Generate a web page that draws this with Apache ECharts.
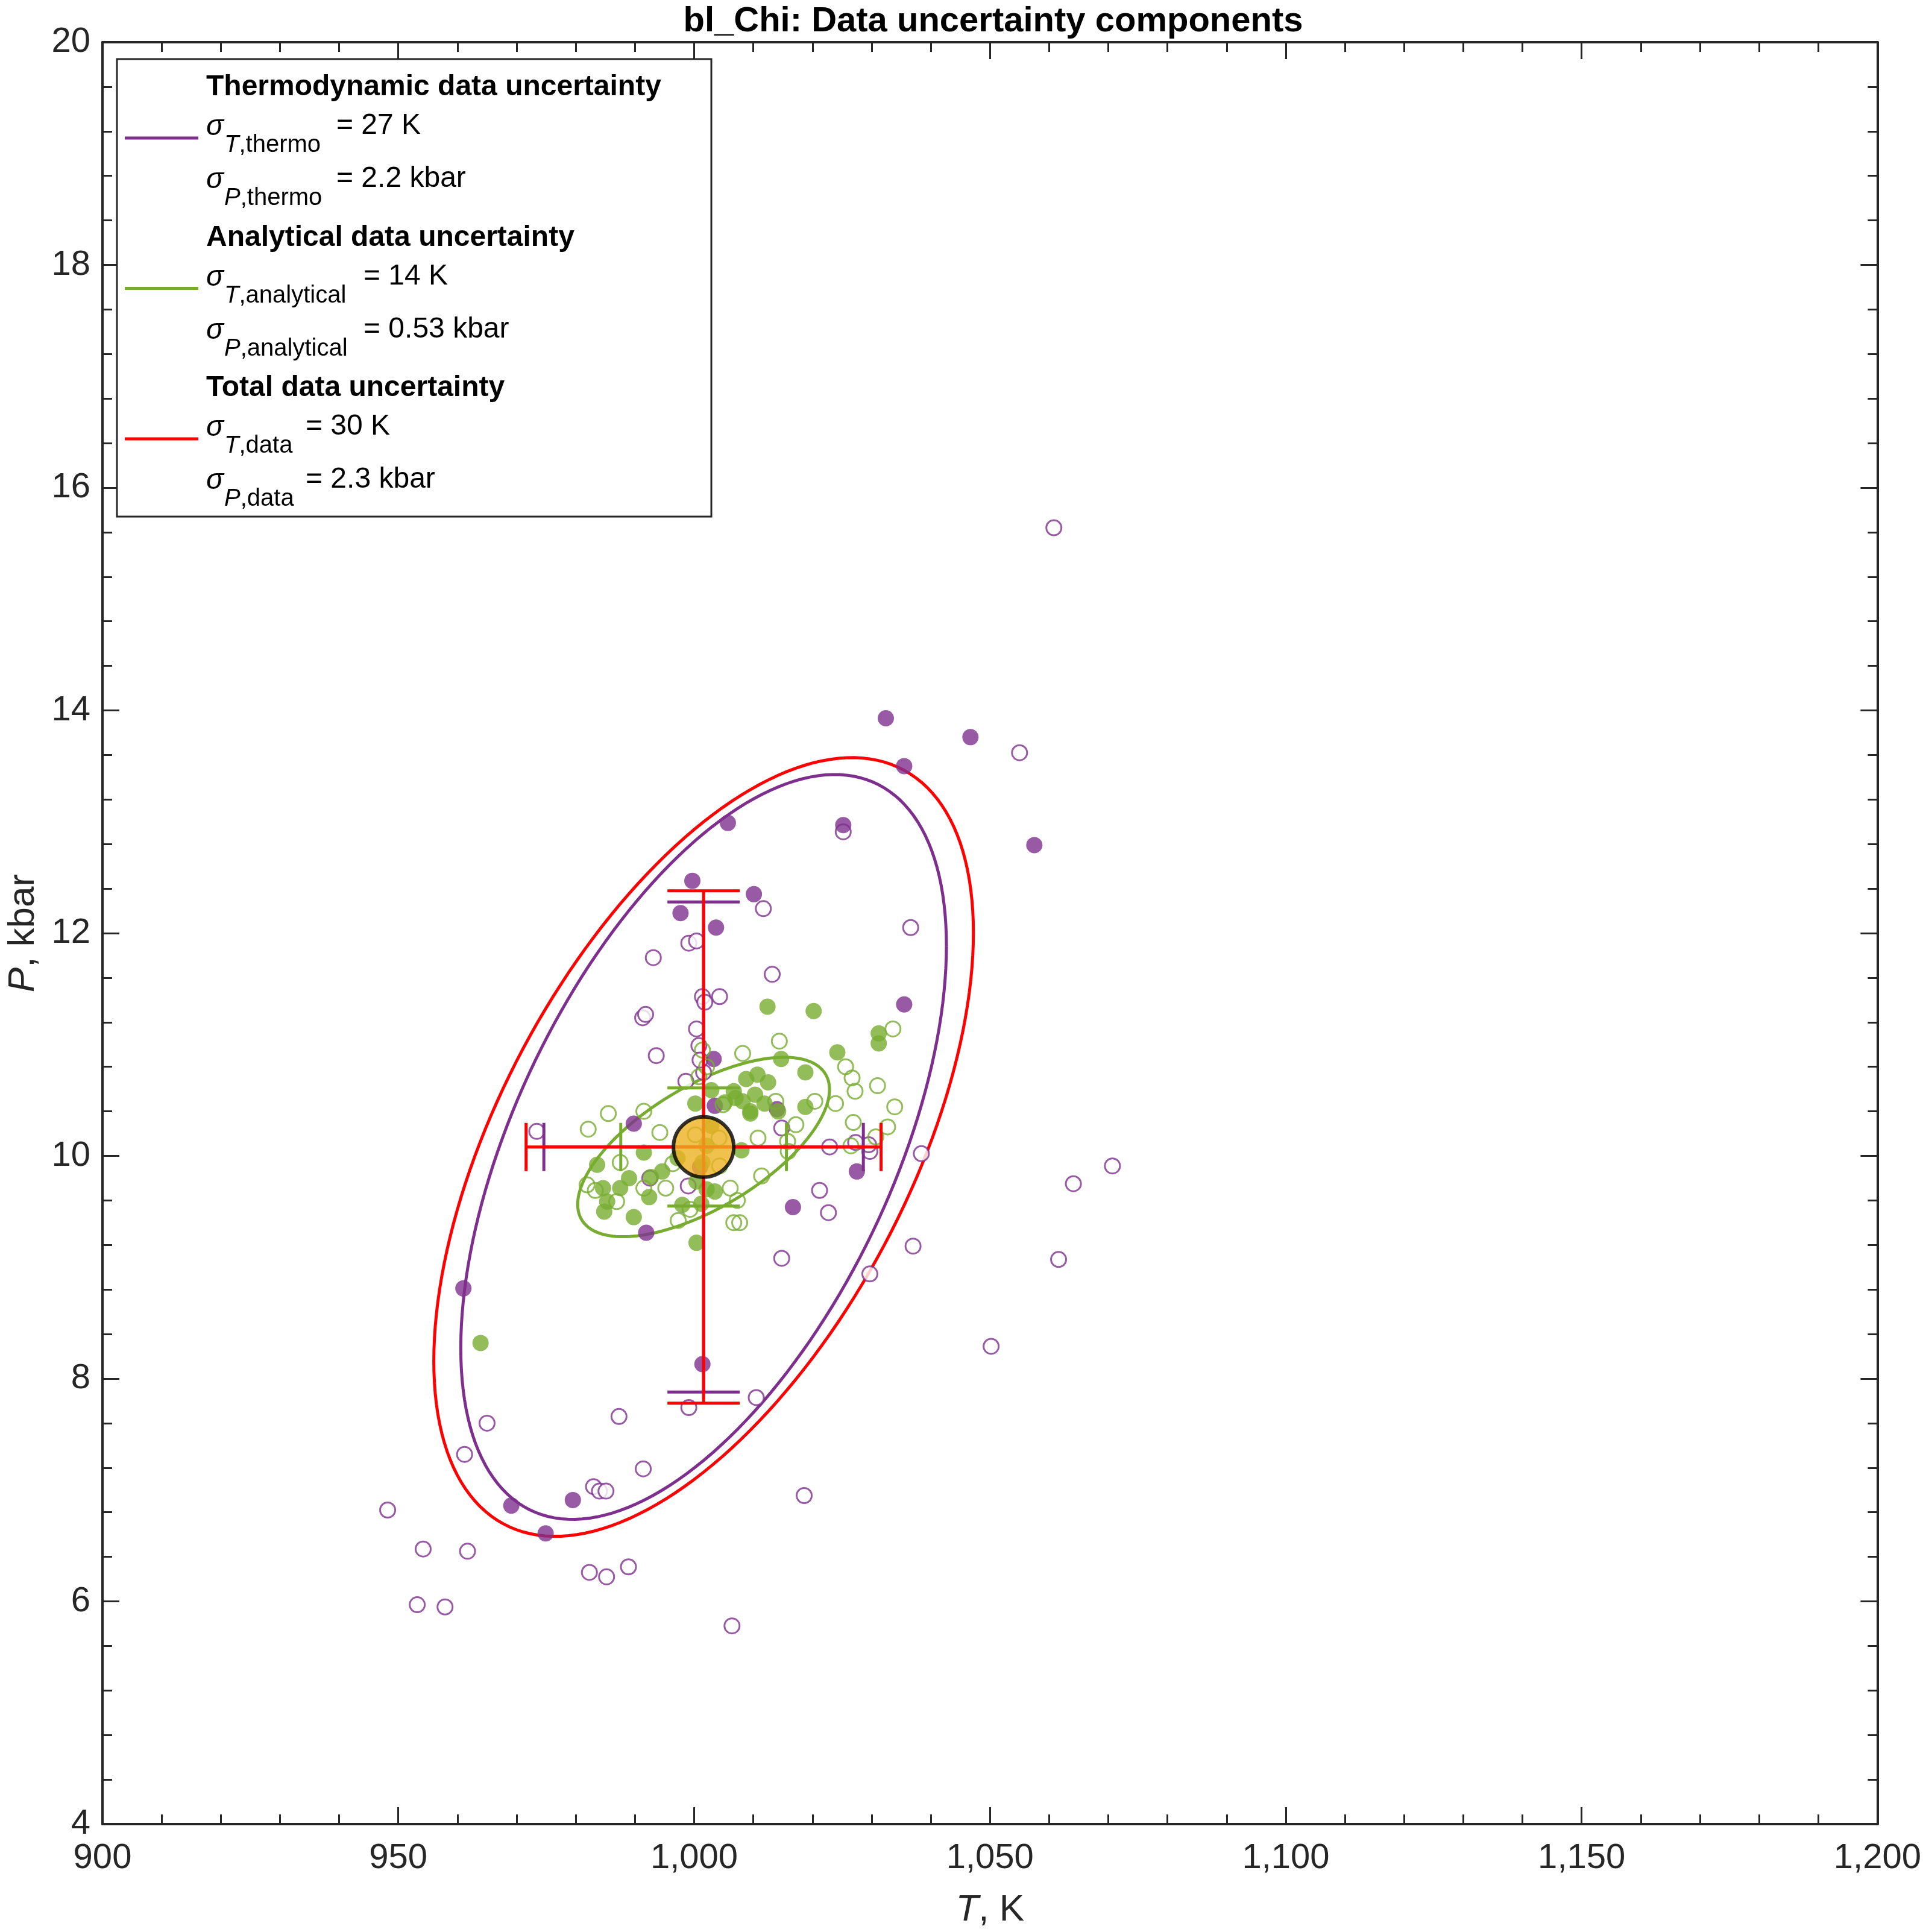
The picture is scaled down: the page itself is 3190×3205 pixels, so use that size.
<!DOCTYPE html>
<html><head><meta charset="utf-8">
<script src="https://cdn.jsdelivr.net/npm/echarts@6/dist/echarts.min.js"></script>
<style>html,body{margin:0;padding:0;background:#fff}#c{width:3190px;height:3205px}</style>
</head><body><div id="c"></div>
<script>
// ---- data ----
const purpleFilled = [[1032.4,13.93],[1046.7,13.76],[1035.5,13.50],[1057.5,12.79],[1025.2,12.97],[1005.7,12.99],[999.7,12.47],[1010.1,12.35],[997.7,12.18],[1003.7,12.05],[1035.5,11.36],[1003.3,10.87],[989.8,10.29],[1027.5,9.86],[1016.7,9.54],[991.9,9.31],[961.0,8.81],[1001.4,8.13],[969.1,6.86],[979.5,6.91],[974.9,6.61],[1003.5,10.45],[1014.0,10.42],[1001.0,9.90]];
const purpleOpen = [[1060.8,15.64],[1055.0,13.62],[1025.2,12.91],[1011.7,12.22],[1036.6,12.05],[999.1,11.91],[1000.4,11.93],[993.1,11.78],[1013.2,11.63],[1001.4,11.43],[1004.3,11.43],[1001.8,11.38],[991.3,11.24],[991.8,11.27],[993.6,10.90],[1000.4,11.14],[1000.8,10.99],[1001.6,10.75],[973.4,10.22],[1014.8,10.25],[1022.9,10.08],[1029.7,10.04],[1029.5,10.10],[1027.3,10.12],[1038.4,10.02],[1070.7,9.91],[1064.1,9.75],[1021.2,9.69],[1022.7,9.49],[1014.8,9.08],[1037.0,9.19],[1061.6,9.07],[1029.7,8.94],[1050.2,8.29],[999.1,7.74],[1010.5,7.83],[987.3,7.66],[965.0,7.60],[961.2,7.32],[991.4,7.19],[983.0,7.03],[984.0,6.99],[985.1,6.99],[1018.6,6.95],[948.2,6.82],[954.2,6.47],[961.7,6.45],[982.3,6.26],[985.2,6.22],[988.9,6.31],[953.2,5.97],[957.9,5.95],[1006.4,5.78],[999.0,9.73],[992.5,9.80],[998.6,10.67],[1001.0,10.86]];
const greenFilled = [[963.9,8.32],[1012.4,11.34],[1020.2,11.30],[1031.2,11.10],[1031.2,11.01],[1024.2,10.93],[1014.7,10.87],[1018.8,10.75],[1010.7,10.73],[1008.8,10.69],[1012.5,10.66],[1006.7,10.58],[1010.3,10.55],[1002.9,10.59],[1000.2,10.47],[1011.9,10.47],[1014.2,10.40],[1009.5,10.38],[1018.8,10.44],[1002.9,10.27],[1009.5,10.40],[1008.2,10.49],[1002.1,10.09],[1008.0,10.05],[983.6,9.92],[991.5,10.03],[997.2,9.98],[1001.4,9.94],[994.6,9.86],[989.0,9.80],[992.7,9.81],[984.6,9.71],[987.5,9.71],[1000.4,9.77],[1002.1,9.70],[1003.5,9.68],[985.3,9.59],[992.4,9.63],[998.0,9.56],[1001.2,9.57],[984.8,9.50],[989.8,9.45],[1000.4,9.22],[1005.2,10.48],[1007.0,10.52]];
const greenOpen = [[1033.6,11.14],[1014.4,11.03],[1008.2,10.92],[1001.4,10.95],[1002.1,10.80],[1000.8,10.71],[1025.6,10.80],[1026.7,10.70],[1031.0,10.63],[1027.2,10.58],[1020.4,10.49],[1013.8,10.49],[1004.9,10.46],[1033.9,10.44],[1023.9,10.47],[1017.2,10.28],[1026.9,10.30],[1032.7,10.26],[982.1,10.24],[985.5,10.38],[991.5,10.40],[994.2,10.21],[1000.2,10.19],[1004.2,10.16],[1010.8,10.16],[1015.8,10.13],[1030.7,10.17],[1026.5,10.09],[987.5,9.94],[996.4,9.93],[1004.3,9.91],[1015.9,10.04],[981.9,9.74],[983.3,9.69],[986.9,9.59],[995.2,9.71],[1006.1,9.71],[1007.3,9.60],[997.3,9.42],[1006.7,9.40],[1007.7,9.40],[1011.4,9.82],[999.3,9.52],[991.5,9.71]];
const center = [1001.6, 10.08];
// components: name, sigmaT, sigmaP, correlation, colour
const compNames = ['thermo','analytical','data'];
const sigmaT = [27, 14, 30];
const sigmaP = [2.2, 0.53, 2.3];
const rhoTP = [0.54, 0.64, 0.55];
const ellipseScale = 1.52;
const compColors = ['#7E2F8E','#77AC30','#FF0000'];
const xTicks = [900,950,1000,1050,1100,1150,1200];
const yTicks = [4,6,8,10,12,14,16,18,20];

// ---- chart ----
const chart = echarts.init(document.getElementById('c'));
const axisCol = '#262626';
const G = {left:160, top:70, width:2965, height:2963};

function ellipseSeries(i){
  return {type:'custom', z:3, silent:true, data:[[center[0],center[1]]],
    renderItem:function(params, api){
      const pts=[];
      const r=Math.sqrt(1-rhoTP[i]*rhoTP[i]);
      for(let k=0;k<=180;k++){
        const t=k/180*2*Math.PI;
        const T=center[0]+ellipseScale*sigmaT[i]*Math.cos(t);
        const P=center[1]+ellipseScale*sigmaP[i]*(rhoTP[i]*Math.cos(t)+r*Math.sin(t));
        pts.push(api.coord([T,P]));
      }
      return {type:'polyline', shape:{points:pts}, style:{stroke:compColors[i], lineWidth:5, fill:null}};
    }};
}
function barSeries(i){
  return {type:'custom', z:6, silent:true, data:[[center[0],center[1]]],
    renderItem:function(params, api){
      const c=center, sT=sigmaT[i], sP=sigmaP[i];
      const L=api.coord([c[0]-sT,c[1]]), R=api.coord([c[0]+sT,c[1]]);
      const U=api.coord([c[0],c[1]+sP]), D=api.coord([c[0],c[1]-sP]);
      const cap=40, st={stroke:compColors[i], lineWidth:5};
      const ln=(a,b)=>({type:'line', shape:{x1:a[0],y1:a[1],x2:b[0],y2:b[1]}, style:st});
      return {type:'group', children:[
        ln(L,R), ln(U,D),
        ln([L[0],L[1]-cap],[L[0],L[1]+cap]), ln([R[0],R[1]-cap],[R[0],R[1]+cap]),
        ln([U[0]-cap*1.5,U[1]],[U[0]+cap*1.5,U[1]]), ln([D[0]-cap*1.5,D[1]],[D[0]+cap*1.5,D[1]])
      ]};
    }};
}
const baseX = {type:'value', min:900, max:1200, interval:50, gridIndex:0};
const baseY = {type:'value', min:4, max:20, interval:2, gridIndex:0};
const tickStyle = {axisLine:{show:true,lineStyle:{color:axisCol,width:4}}, axisTick:{show:true,inside:true,length:28,lineStyle:{color:axisCol,width:3}}, minorTick:{show:true,splitNumber:5,length:16,lineStyle:{color:axisCol,width:3}}, splitLine:{show:false}};
const minorInside = {};
const option = {
  backgroundColor:'#fff',
  animation:false,
  title:{text:'bl_Chi: Data uncertainty components', left:G.left+G.width/2, textAlign:'center', top:2,
    textStyle:{fontFamily:'Liberation Sans', fontWeight:'bold', fontSize:58, color:'#000'}},
  grid:G,
  xAxis:[
    Object.assign({}, baseX, tickStyle, {position:'bottom', name:'{i|T}, K', nameLocation:'middle', nameGap:112,
      nameTextStyle:{fontFamily:'Liberation Sans', fontSize:62, color:axisCol, rich:{i:{fontStyle:'italic', fontFamily:'Liberation Sans', fontSize:62, color:axisCol}}},
      axisLabel:{fontFamily:'Liberation Sans', fontSize:58, color:axisCol, margin:28}}),
    Object.assign({}, baseX, tickStyle, {position:'top', axisLabel:{show:false}})
  ],
  yAxis:[
    Object.assign({}, baseY, tickStyle, {position:'left', name:'{i|P}, kbar', nameLocation:'middle', nameGap:100,
      nameTextStyle:{fontFamily:'Liberation Sans', fontSize:62, color:axisCol, rich:{i:{fontStyle:'italic', fontFamily:'Liberation Sans', fontSize:62, color:axisCol}}},
      axisLabel:{fontFamily:'Liberation Sans', fontSize:58, color:axisCol, margin:20}}),
    Object.assign({}, baseY, tickStyle, {position:'right', axisLabel:{show:false}})
  ],
  series:[
    ellipseSeries(0), ellipseSeries(2), ellipseSeries(1),
    {type:'scatter', z:4, data:purpleOpen, symbol:'circle', symbolSize:25, itemStyle:{color:'#fff', borderColor:compColors[0], borderWidth:3}},
    {type:'scatter', z:4, data:purpleFilled, symbol:'circle', symbolSize:27, itemStyle:{color:compColors[0]}},
    {type:'scatter', z:5, data:greenOpen, symbol:'circle', symbolSize:25, itemStyle:{color:'rgba(255,255,255,0)', borderColor:compColors[1], borderWidth:3}},
    {type:'scatter', z:5, data:greenFilled, symbol:'circle', symbolSize:27, itemStyle:{color:compColors[1]}},
    barSeries(1), barSeries(0), barSeries(2),
    {type:'scatter', z:8, data:[center], symbol:'circle', symbolSize:100, itemStyle:{color:'#EDB120', borderColor:'#000', borderWidth:6}}
  ],
  graphic:[]
};
// legend
const lg = [];
lg.push({type:'rect', z:100, shape:{x:194,y:98,width:986,height:759}, style:{fill:'#fff', stroke:axisCol, lineWidth:3}});
const headers = ['Thermodynamic data uncertainty','Analytical data uncertainty','Total data uncertainty'];
const rowsT = ['27 K','14 K','30 K'];
const rowsP = ['2.2 kbar','0.53 kbar','2.3 kbar'];
const eqX = [558, 603, 507];
const fnt = 'Liberation Sans';
for(let i=0;i<3;i++){
  const y0 = 145 + i*249.5;
  lg.push({type:'text', z:101, style:{text:headers[i], x:342, y:y0, verticalAlign:'middle', font:'bold 48px "Liberation Sans"', fill:'#000'}});
  lg.push({type:'line', z:101, shape:{x1:207,y1:y0+84,x2:329,y2:y0+84}, style:{stroke:compColors[i], lineWidth:5}});
  const rows=[['T',rowsT[i]],['P',rowsP[i]]];
  rows.forEach((r,j)=>{
    const ys = y0 + 66 + j*88;
    lg.push({type:'text', z:101, style:{text:'σ', x:342, y:ys, verticalAlign:'middle', font:'italic 48px "Liberation Sans"', fill:'#000'}});
    lg.push({type:'text', z:101, style:{text:'{i|'+r[0]+'}{n|,'+compNames[i]+'}', x:372, y:ys+30, verticalAlign:'middle',
      rich:{i:{fontStyle:'italic', fontSize:40, fontFamily:fnt, fill:'#000'}, n:{fontSize:40, fontFamily:fnt, fill:'#000'}}}});
    lg.push({type:'text', z:101, style:{text:'= '+r[1], x:eqX[i], y:ys-2, verticalAlign:'middle', font:'48px "Liberation Sans"', fill:'#000'}});
  });
}
option.graphic = lg;
chart.setOption(option);
</script></body></html>
